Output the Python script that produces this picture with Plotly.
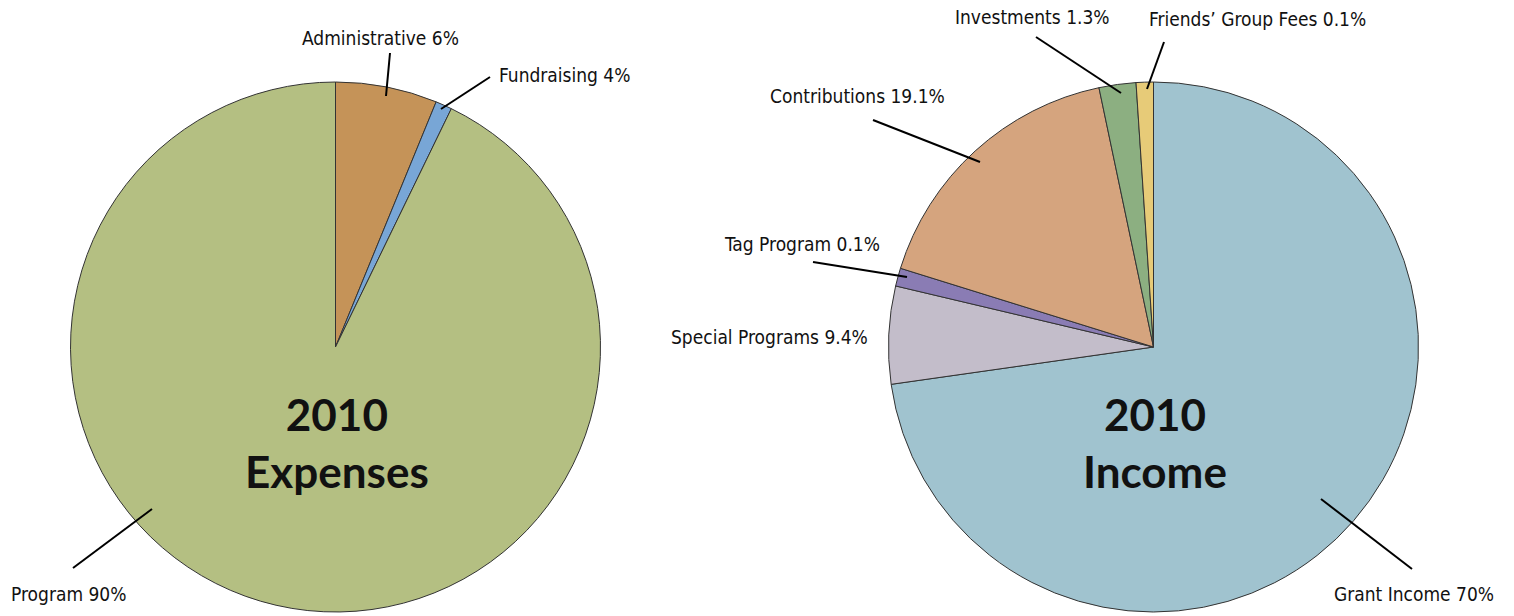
import plotly.graph_objects as go

W, H = 1514, 616

# ---- data ----
exp_labels = ["Administrative", "Fundraising", "Program"]
exp_values = [6.2, 1.0, 92.8]
exp_text = ["Administrative 6%", "Fundraising 4%", "Program 90%"]
exp_colors = ["#C59358", "#78A6D6", "#B4BF82"]

inc_labels = ["Grant Income", "Special Programs", "Tag Program", "Contributions", "Investments", "Friends' Group Fees"]
inc_values = [72.75, 5.95, 1.1, 16.9, 2.25, 1.05]
inc_text = ["Grant Income 70%", "Special Programs 9.4%", "Tag Program 0.1%", "Contributions 19.1%",
            "Investments 1.3%", "Friends\u2019 Group Fees 0.1%"]
inc_colors = ["#A0C3CF", "#C3BDCA", "#8A7CB4", "#D5A47E", "#8CAF81", "#E7CB78"]

titles = ["2010<br>Expenses", "2010<br>Income"]


def px(x):
    return x / W


def py(y):
    return 1 - y / H


LABEL_FONT = dict(family="Liberation Sans Narrow, DejaVu Sans Condensed, Arial Narrow, sans-serif",
                  size=19, color="#111111")
TITLE_FONT = dict(family="Lato, Liberation Sans, sans-serif", size=44, color="#111111", weight="bold")

fig = go.Figure()
common = dict(sort=False, direction="clockwise", rotation=0, textinfo="none",
              hoverinfo="label+percent", showlegend=False)
fig.add_trace(go.Pie(labels=exp_labels, values=exp_values,
                     marker=dict(colors=exp_colors, line=dict(color="#333333", width=1)),
                     domain=dict(x=[px(70.5), px(600.5)], y=[py(612), py(82)]), **common))
fig.add_trace(go.Pie(labels=inc_labels, values=inc_values,
                     marker=dict(colors=inc_colors, line=dict(color="#333333", width=1)),
                     domain=dict(x=[px(888.5), px(1418.5)], y=[py(612), py(82)]), **common))

# label placements: (text, x, y, xanchor)
label_pos = [
    (exp_text[0], 380, 38, "center"),
    (exp_text[1], 497, 75, "left"),
    (exp_text[2], 9, 594, "left"),
    (inc_text[0], 1496, 594, "right"),
    (inc_text[1], 870, 337, "right"),
    (inc_text[2], 802, 244, "center"),
    (inc_text[3], 858, 96, "center"),
    (inc_text[4], 1032, 17, "center"),
    (inc_text[5], 1147, 19, "left"),
]
annotations = []
for t, x, y, xa in label_pos:
    annotations.append(dict(text=t, x=px(x), y=py(y), xref="paper", yref="paper",
                            xanchor=xa, yanchor="middle", showarrow=False, font=LABEL_FONT))

annotations.append(dict(text=titles[0], x=px(337), y=py(442), xref="paper", yref="paper",
                        xanchor="center", yanchor="middle", showarrow=False, font=TITLE_FONT))
annotations.append(dict(text=titles[1], x=px(1155), y=py(442), xref="paper", yref="paper",
                        xanchor="center", yanchor="middle", showarrow=False, font=TITLE_FONT))

leaders = [
    (390, 53, 386, 96),
    (490, 77, 441, 109),
    (152, 509, 73, 568),
    (1321, 499, 1412, 569),
    (813, 262, 907, 277),
    (873, 120, 980, 162),
    (1036, 37, 1121, 93),
    (1164, 42, 1147, 89),
]
shapes = [dict(type="line", xref="paper", yref="paper", x0=px(a), y0=py(b), x1=px(c), y1=py(d),
               line=dict(color="black", width=2)) for a, b, c, d in leaders]

fig.update_layout(width=W, height=H, margin=dict(l=0, r=0, t=0, b=0),
                  paper_bgcolor="white", plot_bgcolor="white",
                  annotations=annotations, shapes=shapes)

fig.write_html("out.html", config={"displayModeBar": False},
               post_script="document.body.style.margin='0';document.body.style.overflow='hidden';")
